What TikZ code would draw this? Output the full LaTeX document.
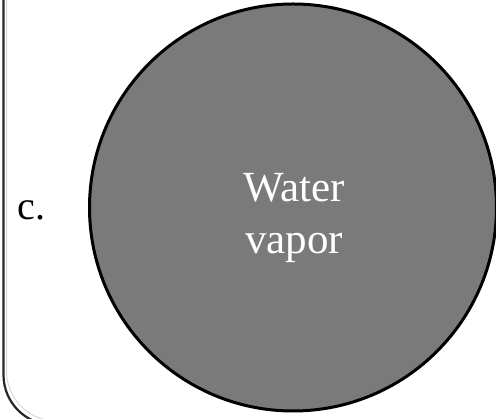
\documentclass[tikz,border=0pt]{standalone}
\usepackage{fontspec}
\setmainfont{Liberation Serif}
\usetikzlibrary{calc, positioning}

\begin{document}
\begin{tikzpicture}[x=1pt, y=1pt]
\def\picW{496}
\def\picH{419}
\def\framex{3.5}
\def\framebot{-6}
\def\cornerRad{50}
\def\bubbleRad{203.5}
\useasboundingbox (0,0) rectangle (\picW,\picH);

\coordinate (centre) at (293,211.5);

% frame of the panel
\draw[line width=2.2pt, black!85, rounded corners=\cornerRad pt]
  (\framex,\picH+5) -- (\framex,\framebot) -- (\picW,\framebot);
\draw[line width=1pt, black!15, rounded corners=\cornerRad pt]
  (\framex+3,\picH+5) -- (\framex+3,\framebot+4) -- (\picW,\framebot+4);

% the vapor bubble
\filldraw[fill=black!52, draw=black, line width=3pt] (centre) circle (\bubbleRad);

\node[font=\fontsize{43}{52}\selectfont, text=white, align=center] (vapor)
  at ($(centre)+(1,-11)$) {Water\\vapor};

\node[font=\fontsize{40}{48}\selectfont, anchor=base west] (label) at (14,199) {c.};
\end{tikzpicture}
\end{document}
